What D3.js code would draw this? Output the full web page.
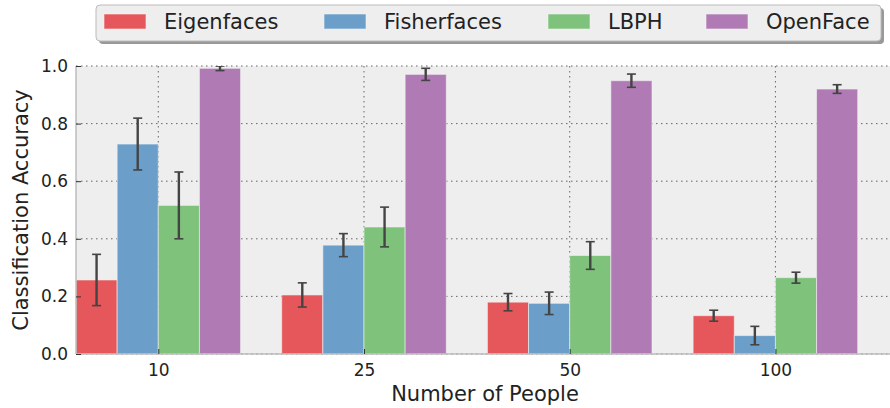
<!DOCTYPE html>
<html>
<head>
<meta charset="utf-8">
<script src="https://cdn.jsdelivr.net/npm/d3@7"></script>
<style>
  body { margin: 0; background: #fff; }
  text { font-family: "DejaVu Sans", sans-serif; fill: #222; }
</style>
</head>
<body>
<svg id="chart" width="890" height="408"></svg>
<script>
// data
let groups = ["10", "25", "50", "100"]
let methods = ["Eigenfaces", "Fisherfaces", "LBPH", "OpenFace"]
let colors = ["#e5575a", "#6b9fca", "#7ec27b", "#b07bb5"]
let eigenMean = [0.257, 0.205, 0.180, 0.133]
let eigenErr = [0.089, 0.042, 0.030, 0.019]
let fisherMean = [0.729, 0.378, 0.176, 0.064]
let fisherErr = [0.090, 0.040, 0.039, 0.032]
let lbphMean = [0.516, 0.441, 0.342, 0.265]
let lbphErr = [0.116, 0.069, 0.048, 0.019]
let openMean = [0.992, 0.971, 0.949, 0.920]
let openErr = [0.008, 0.021, 0.023, 0.015]
let yTicks = [0.0, 0.2, 0.4, 0.6, 0.8, 1.0]

let means = [eigenMean, fisherMean, lbphMean, openMean]
let errs = [eigenErr, fisherErr, lbphErr, openErr]

let margin = { left: 76, right: 0, top: 66, bottom: 54 }
let W = 890, H = 408
let barW = 0.2

let svg = d3.select("#chart")

let x = d3.scaleLinear().domain([-0.4, 3.557]).range([margin.left, W - margin.right])
let y = d3.scaleLinear().domain([0, 1]).range([H - margin.bottom, margin.top])

svg.append("defs").append("clipPath").attr("id", "plotclip")
    .append("rect")
    .attr("x", margin.left).attr("y", margin.top)
    .attr("width", W - margin.right - margin.left)
    .attr("height", H - margin.bottom - margin.top)

// background
svg.append("rect")
    .attr("x", margin.left).attr("y", margin.top)
    .attr("width", W - margin.right - margin.left)
    .attr("height", H - margin.bottom - margin.top)
    .attr("fill", "#eeeeee")

// grid
let grid = svg.append("g")
grid.selectAll(".gy").data(yTicks).enter().append("line")
    .attr("x1", margin.left).attr("x2", W - margin.right)
    .attr("y1", d => y(d)).attr("y2", d => y(d))
    .attr("stroke", "#666").attr("stroke-width", 1)
    .attr("stroke-dasharray", "1.5,3.5")
grid.selectAll(".gx").data(groups).enter().append("line")
    .attr("x1", (d, i) => x(i)).attr("x2", (d, i) => x(i))
    .attr("y1", margin.top).attr("y2", H - margin.bottom)
    .attr("stroke", "#666").attr("stroke-width", 1)
    .attr("stroke-dasharray", "1.5,3.5")

// bars
let plot = svg.append("g").attr("clip-path", "url(#plotclip)")
for (let m = 0; m < methods.length; m++) {
    plot.selectAll(".bar" + m).data(means[m]).enter().append("rect")
        .attr("x", (d, i) => x(i - 0.4 + m * barW))
        .attr("width", x(barW) - x(0))
        .attr("y", d => y(d))
        .attr("height", d => y(0) - y(d))
        .attr("fill", colors[m])
        .attr("stroke", "#f2f2f2").attr("stroke-opacity", 0.6).attr("stroke-width", 1)
}

// error bars
for (let m = 0; m < methods.length; m++) {
    let eb = plot.selectAll(".err" + m).data(means[m]).enter().append("g")
        .attr("stroke", "#444").attr("stroke-width", 2.4)
    let cx = (d, i) => x(i - 0.3 + m * barW)
    eb.append("line")
        .attr("x1", cx).attr("x2", cx)
        .attr("y1", (d, i) => y(d + errs[m][i])).attr("y2", (d, i) => y(d - errs[m][i]))
    eb.append("line")
        .attr("x1", (d, i) => cx(d, i) - 4.5).attr("x2", (d, i) => cx(d, i) + 4.5)
        .attr("y1", (d, i) => y(d + errs[m][i])).attr("y2", (d, i) => y(d + errs[m][i]))
        .attr("stroke-width", 1.6)
    eb.append("line")
        .attr("x1", (d, i) => cx(d, i) - 4.5).attr("x2", (d, i) => cx(d, i) + 4.5)
        .attr("y1", (d, i) => y(d - errs[m][i])).attr("y2", (d, i) => y(d - errs[m][i]))
        .attr("stroke-width", 1.6)
}

// spines
svg.append("line")
    .attr("x1", margin.left).attr("x2", W)
    .attr("y1", y(0)).attr("y2", y(0))
    .attr("stroke", "#bcbcbc").attr("stroke-width", 1.5)
svg.append("line")
    .attr("x1", margin.left).attr("x2", margin.left)
    .attr("y1", margin.top).attr("y2", y(0))
    .attr("stroke", "#bcbcbc").attr("stroke-width", 1.5)

// y axis
let yAxis = svg.append("g")
    .attr("transform", "translate(" + margin.left + ",0)")
    .call(d3.axisLeft(y).tickValues(yTicks).tickFormat(d3.format(".1f")).tickSize(-5).tickPadding(8))
yAxis.select(".domain").remove()
yAxis.selectAll("line").attr("stroke", "#333")
yAxis.selectAll("text").style("font-size", "17px").style("font-family", "DejaVu Sans").attr("fill", "#222")

// x axis
let xAxis = svg.append("g")
    .attr("transform", "translate(0," + y(0) + ")")
    .call(d3.axisBottom(x).tickValues([0, 1, 2, 3]).tickFormat(i => groups[i]).tickSize(-5).tickPadding(10))
xAxis.select(".domain").remove()
xAxis.selectAll("line").attr("stroke", "#333")
xAxis.selectAll("text").style("font-size", "17px").style("font-family", "DejaVu Sans").attr("fill", "#222")

// axis labels
svg.append("text")
    .attr("x", 485).attr("y", 401)
    .attr("text-anchor", "middle")
    .style("font-size", "21px")
    .text("Number of People")
svg.append("text")
    .attr("transform", "translate(28," + ((margin.top + y(0)) / 2) + ") rotate(-90)")
    .attr("text-anchor", "middle")
    .style("font-size", "21px")
    .text("Classification Accuracy")

// legend
let lg = svg.append("g")
lg.append("rect")
    .attr("x", 99).attr("y", 8).attr("width", 785).attr("height", 36).attr("rx", 4)
    .attr("fill", "#999")
lg.append("rect")
    .attr("x", 96).attr("y", 5).attr("width", 785).attr("height", 36).attr("rx", 4)
    .attr("fill", "#eeeeee").attr("stroke", "#bbbbbb").attr("stroke-width", 1)
let legX = [104, 324, 548, 706]
for (let m = 0; m < methods.length; m++) {
    lg.append("rect")
        .attr("x", legX[m]).attr("y", 14).attr("width", 42).attr("height", 15)
        .attr("fill", colors[m]).attr("stroke", "#f2f2f2").attr("stroke-opacity", 0.6)
    lg.append("text")
        .attr("x", legX[m] + 60).attr("y", 29)
        .style("font-size", "21px")
        .text(methods[m])
}
</script>
</body>
</html>
